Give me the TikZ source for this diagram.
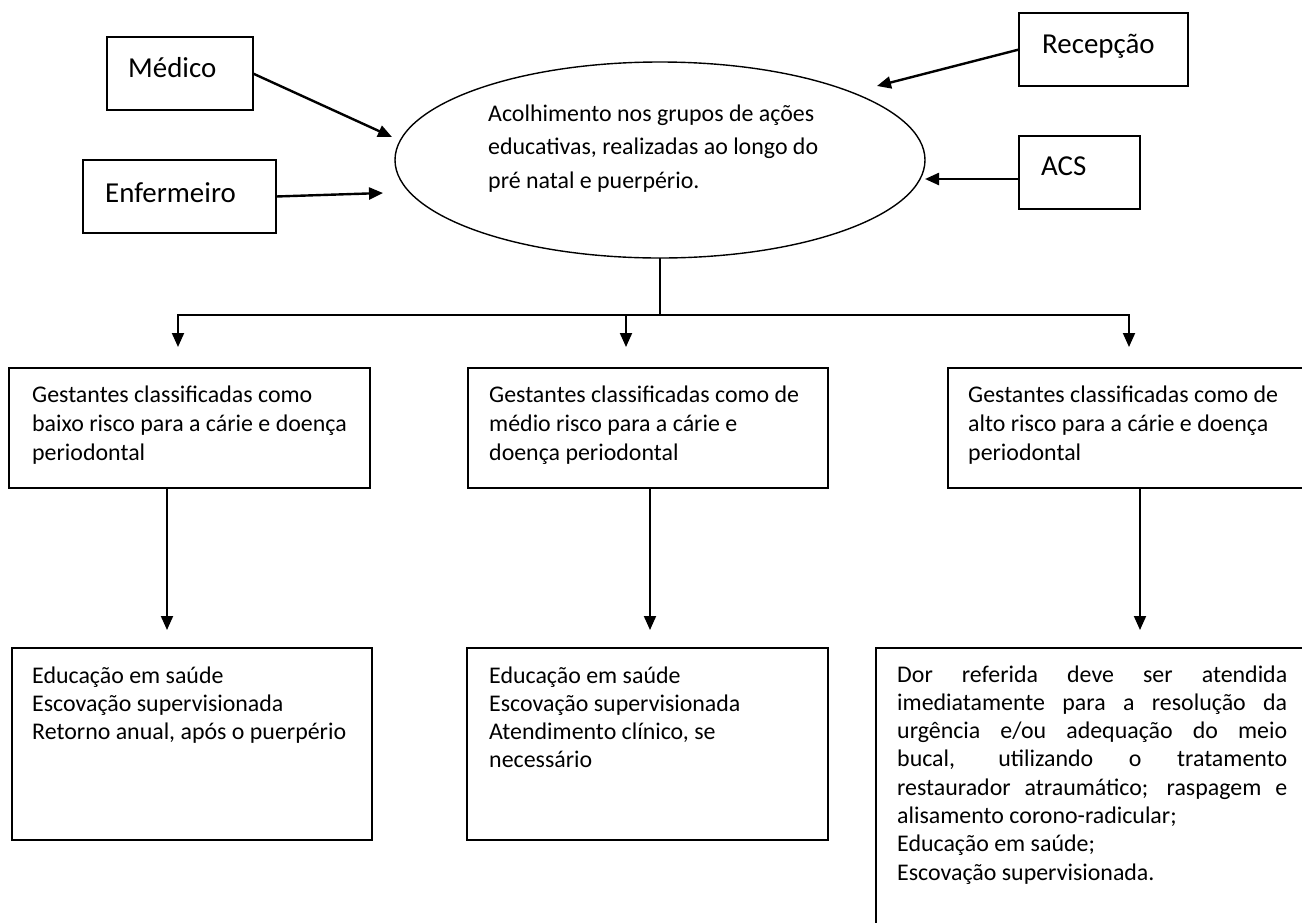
\documentclass[tikz,border=0pt]{standalone}
\usepackage{fontspec}
\setmainfont{Carlito}
\usetikzlibrary{shapes.geometric,arrows.meta,calc}
\newcommand{\mlines}[1]{\begin{tabular}[t]{@{}l@{}}#1\end{tabular}}
\newcommand{\jl}[1]{\makebox[390pt][s]{#1}}
\begin{document}
\begin{tikzpicture}[x=1pt,y=-1pt,
  box/.style={draw,line width=1.8pt,anchor=north west,inner sep=0pt,outer sep=0pt},
  lbl/.style={anchor=base west,inner sep=0pt,font=\fontsize{28.9}{34}\selectfont},
  txt/.style={anchor=base west,inner sep=0pt,font=\fontsize{23.9}{29}\selectfont},
  txtb/.style={anchor=base west,inner sep=0pt,font=\fontsize{23.9}{28.3}\selectfont},
  txte/.style={anchor=base west,inner sep=0pt,font=\fontsize{23.9}{33.5}\selectfont},
  arr/.style={line width=2.4pt,-{Triangle[length=14pt,width=12pt]}},
  arrd/.style={line width=1.9pt,-{Triangle[length=14pt,width=12pt]}},
  stem/.style={line width=1.5pt}]
\clip (0,0) rectangle (1302,922);
\fill[white] (0,0) rectangle (1302,922);
% top boxes
\node[box,minimum width=146pt,minimum height=73pt] (med) at (107,37) {};
\node[lbl] (tmedl) at (128,77) {Médico};
\node[box,minimum width=193pt,minimum height=73pt] (enf) at (83,160) {};
\node[lbl] (tenfl) at (105,202) {Enfermeiro};
\node[box,minimum width=169pt,minimum height=73pt] (rec) at (1019,13) {};
\node[lbl] (trecl) at (1042,53) {Recepção};
\node[box,minimum width=121pt,minimum height=73pt] (acs) at (1019,136) {};
\node[lbl] (tacsl) at (1041,175) {ACS};
% ellipse
\node[draw,ellipse,line width=1.4pt,minimum width=530pt,minimum height=196pt,inner sep=0pt,outer sep=0pt] (ell) at (660,160) {};
\node[txte] (tell) at (488,121) {\mlines{Acolhimento nos grupos de ações\\educativas, realizadas ao longo do\\pré natal e puerpério.}};
% arrows into ellipse
\coordinate (tmed) at (392,137);
\coordinate (tenf) at (383,193);
\coordinate (trec) at (877,86);
\coordinate (tacs) at (925,179);
\draw[arr] (med.east) -- (tmed);
\draw[arr] (enf.east) -- (tenf);
\draw[arr] (rec.west) -- (trec);
\draw[arr] (acs.west |- tacs) -- (tacs);
% classification boxes
\node[box,minimum width=361pt,minimum height=120pt] (g1) at (9,368) {};
\node[txt] (tg1) at (32,402) {\mlines{Gestantes classificadas como\\baixo risco para a cárie e doença\\periodontal}};
\node[box,minimum width=360pt,minimum height=120pt] (g2) at (468,368) {};
\node[txt] (tg2) at (489,402) {\mlines{Gestantes classificadas como de\\médio risco para a cárie e\\doença periodontal}};
\node[box,minimum width=370pt,minimum height=120pt] (g3) at (948,368) {};
\node[txt] (tg3) at (968,402) {\mlines{Gestantes classificadas como de\\alto risco para a cárie e doença\\periodontal}};
% distribution
\coordinate (jn) at (660,315);
\coordinate (a1) at (178,347);
\coordinate (a2) at (626,347);
\coordinate (a3) at (1129,347);
\draw[stem] (ell.south) -- (jn);
\draw[arrd] (jn) -| (a1);
\draw[arrd] (jn) -| (a3);
\draw[arrd] (a2 |- jn) -- (a2);
% action boxes
\node[box,minimum width=360pt,minimum height=192pt] (e1) at (12,648) {};
\node[txtb] (te1) at (32,683) {\mlines{Educação em saúde\\Escovação supervisionada\\Retorno anual, após o puerpério}};
\node[box,minimum width=361pt,minimum height=192pt] (e2) at (467,648) {};
\node[txtb] (te2) at (489,683) {\mlines{Educação em saúde\\Escovação supervisionada\\Atendimento clínico, se\\necessário}};
\node[box,minimum width=440pt,minimum height=300pt] (e3) at (876,648) {};
\node[txtb] (te3) at (897,682) {\mlines{\jl{Dor referida deve ser atendida}\\\jl{imediatamente para a resolução da}\\\jl{urgência e/ou adequação do meio}\\\jl{bucal, utilizando o tratamento}\\\jl{restaurador atraumático; raspagem e}\\alisamento corono-radicular;\\Educação em saúde;\\Escovação supervisionada.}};
% down arrows
\coordinate (b1) at (167,630);
\coordinate (b2) at (650,630);
\coordinate (b3) at (1140,630);
\draw[arrd] (b1 |- g1.south) -- (b1);
\draw[arrd] (b2 |- g2.south) -- (b2);
\draw[arrd] (b3 |- g3.south) -- (b3);
\end{tikzpicture}
\end{document}
